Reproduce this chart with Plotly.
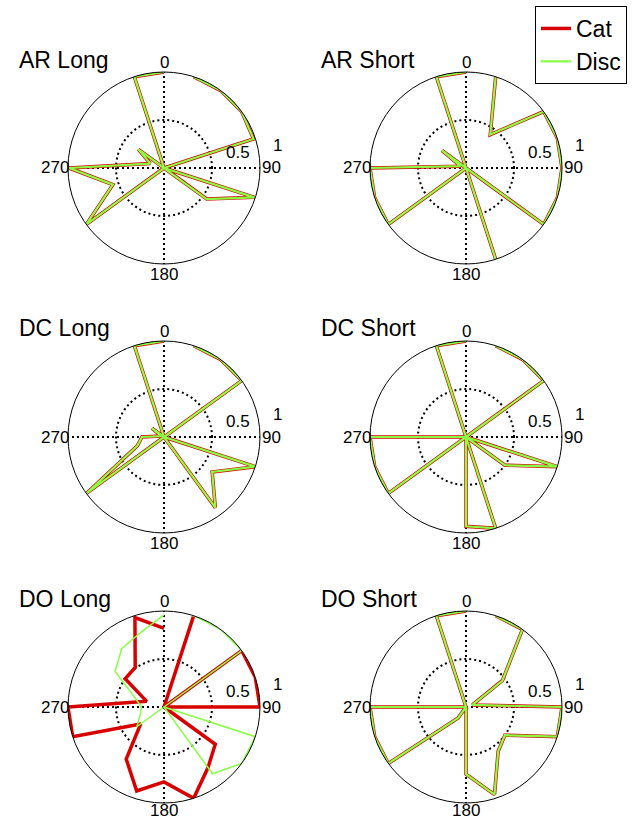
import math
import plotly.graph_objects as go

W, H = 635, 821

# ---- data -------------------------------------------------------------
theta = [18, 36, 54, 72, 90, 108, 126, 144, 162, 180,
         198, 216, 234, 252, 270, 288, 306, 324, 342, 360]

panel_titles = ["AR Long", "AR Short", "DC Long", "DC Short", "DO Long", "DO Short"]

ar_long_cat = [1.0, 1.0, 1.0, 0.98, 0, 0.99, 0.55, 0, 0, 0, 0, 0, 1.0, 0.56, 0.99, 0.15, 0.33, 0, 1.0, 1.0]
ar_long_disc = list(ar_long_cat)
ar_short_cat = [1.0, 0.43, 1.0, 1.0, 1.0, 1.0, 1.0, 0, 1.0, 0, 0, 0, 1.0, 1.0, 1.0, 0.06, 0.31, 0, 1.0, 1.0]
ar_short_disc = list(ar_short_cat)
dc_long_cat = [1.0, 1.0, 1.0, 0, 0, 1.0, 0.62, 0.91, 0, 0, 0, 0, 1.0, 0.29, 0.23, 0.03, 0.155, 0, 1.0, 1.0]
dc_long_disc = list(dc_long_cat)
dc_short_cat = [1.0, 1.0, 1.0, 0, 0, 1.0, 0.5, 0, 1.0, 0.93, 0, 0, 1.0, 1.0, 1.0, 0, 0, 0, 1.0, 1.0]
dc_short_disc = list(dc_short_cat)
do_long_cat = [0.99, 0, 1.0, 1.0, 1.0, 0, 0.66, 0.78, 1.0, 0.78, 0.92, 0.67, 0.3, 1.0, 1.0, 0.19, 0.5, 0.51, 0.98, 0.82]
do_long_disc = [1.0, 1.0, 1.0, 0, 0, 1.0, 1.0, 0.86, 0, 0, 0, 0, 0.35, 0.26, 0.235, 0.32, 0.63, 0.75, 0.81, 0.96]
do_short_cat = [1.0, 1.0, 0.47, 0.07, 1.0, 1.0, 0.5, 0.57, 0.96, 0.7, 0, 0.14, 1.0, 1.0, 1.0, 0, 0, 0, 1.0, 1.0]
do_short_disc = list(do_short_cat)

cat_series = [ar_long_cat, ar_short_cat, dc_long_cat, dc_short_cat, do_long_cat, do_short_cat]
disc_series = [ar_long_disc, ar_short_disc, dc_long_disc, dc_short_disc, do_long_disc, do_short_disc]
# the two series overlap exactly everywhere except in "DO Long"
overlapping = [True, True, True, True, False, True]

angle_labels = ["0", "90", "180", "270"]
radial_ticks = [0.5, 1]

# ---- layout geometry (pixels) ------------------------------------------
centers = [(164, 168), (466, 168), (164, 437), (466, 437), (164, 707), (466, 707)]
R = 96
FONT = "Liberation Sans, Arial, Helvetica, sans-serif"
RED = "#D90000"
GREEN = "#88FF44"


def px(x):
    return x / W


def py(y):
    return 1 - y / H


fig = go.Figure()
annotations = []
layout = {}

for i, (cx, cy) in enumerate(centers):
    key = "polar" if i == 0 else f"polar{i + 1}"
    sub = key
    layout[key] = dict(
        domain=dict(x=[px(cx - R), px(cx + R)], y=[py(cy + R), py(cy - R)]),
        bgcolor="white",
        angularaxis=dict(
            rotation=90, direction="clockwise",
            tickvals=[0, 90, 180, 270], showticklabels=False, ticks="",
            showgrid=True, gridcolor="black", griddash="2px,3px", gridwidth=2,
            showline=True, linecolor="black", linewidth=1,
        ),
        radialaxis=dict(
            range=[0, 1], tickvals=[0.5], showticklabels=False, ticks="",
            showline=False, showgrid=True, gridcolor="black",
            griddash="2px,3px", gridwidth=2,
        ),
    )
    fig.add_trace(go.Scatterpolar(
        r=cat_series[i], theta=theta, mode="lines", name="Cat",
        line=dict(color=RED, width=3.5), subplot=sub,
        showlegend=(i == 0), cliponaxis=False,
    ))
    fig.add_trace(go.Scatterpolar(
        r=disc_series[i], theta=theta, mode="lines", name="Disc",
        line=dict(color=GREEN, width=(2.2 if overlapping[i] else 1.5)),
        subplot=sub, showlegend=(i == 0), cliponaxis=False,
    ))

    # panel title
    annotations.append(dict(
        x=px(cx - 147), y=py(cy - 108.5), xref="paper", yref="paper",
        text=panel_titles[i], showarrow=False, xanchor="left", yanchor="middle",
        font=dict(family=FONT, size=23, color="black"),
    ))
    # angular labels (0, 90, 180, 270); bottom row nudged so "180" stays on the page
    bottom_d = 1.11 if i < 4 else 1.075
    dists = [1.1, 1.115, bottom_d, 1.14]
    for lab, ang, d in zip(angle_labels, [0, 90, 180, 270], dists):
        a = math.radians(ang)
        annotations.append(dict(
            x=px(cx + d * R * math.sin(a)), y=py(cy - d * R * math.cos(a)),
            xref="paper", yref="paper", text=lab, showarrow=False,
            xanchor="center", yanchor="middle",
            font=dict(family=FONT, size=17, color="black"),
        ))
    # radial labels
    for t in radial_ticks:
        a = math.radians(82)
        lx = cx + t * R * math.sin(a) + 12
        ly = cy - t * R * math.cos(a) - 9
        annotations.append(dict(
            x=px(lx), y=py(ly), xref="paper", yref="paper",
            text=("0.5" if t == 0.5 else "1"), showarrow=False,
            xanchor="left", yanchor="middle",
            font=dict(family=FONT, size=17, color="black"),
        ))

fig.update_layout(
    width=W, height=H,
    margin=dict(l=0, r=0, t=0, b=0),
    paper_bgcolor="white",
    annotations=annotations,
    legend=dict(
        x=px(535), y=py(6), xanchor="left", yanchor="top",
        bordercolor="black", borderwidth=1, bgcolor="white",
        font=dict(family=FONT, size=23, color="black"),
        itemwidth=30,
    ),
    **layout,
)

fig.write_html(
    "out.html",
    config={"displayModeBar": False},
    post_script="document.body.style.margin='0';document.body.style.overflow='hidden';",
)
